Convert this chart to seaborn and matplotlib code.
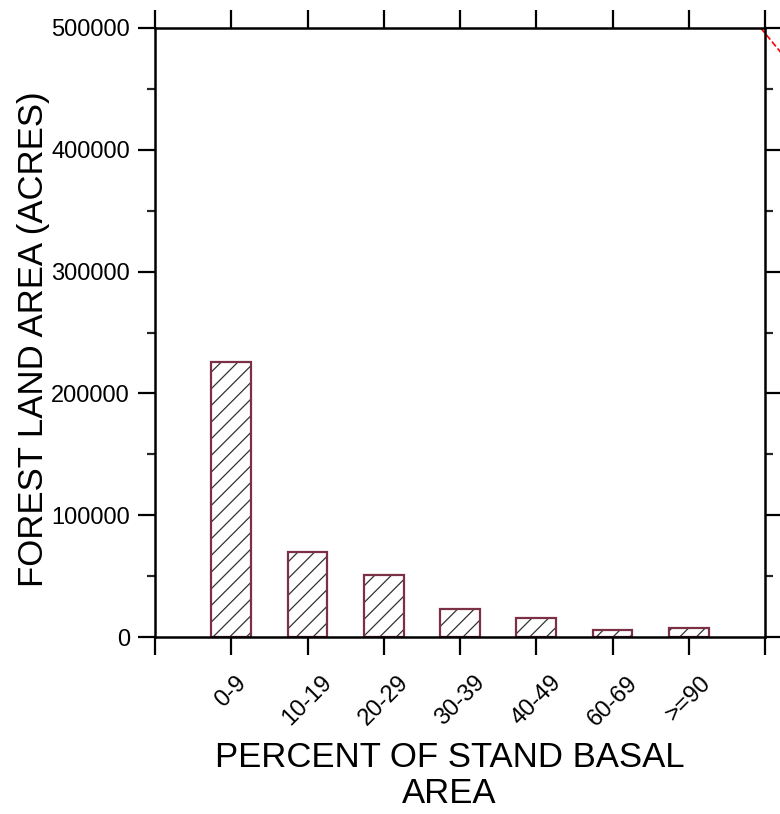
import matplotlib
matplotlib.use("Agg")
import matplotlib.pyplot as plt
import seaborn as sns
import pandas as pd
from matplotlib.ticker import MultipleLocator
from matplotlib.lines import Line2D

categories = ["0-9", "10-19", "20-29", "30-39", "40-49", "60-69", ">=90"]
acres = [226000, 70000, 51000, 23000, 15500, 5800, 7100]
y_major_ticks = [0, 100000, 200000, 300000, 400000, 500000]

sns.set_theme(style="white")
plt.rcParams["font.family"] = ["Liberation Sans", "DejaVu Sans"]
plt.rcParams["hatch.linewidth"] = 0.9

df = pd.DataFrame({"cat": categories, "acres": acres})

fig = plt.figure(figsize=(7.8, 8.14), dpi=100)
ax = fig.add_axes([155 / 780, 1 - 637 / 814, 610 / 780, 609 / 814])

edge = "#7b3045"
# hatched fill layer
sns.barplot(data=df, x="cat", y="acres", ax=ax, color="white", edgecolor="#333333",
            linewidth=0, width=0.52, saturation=1)
for p in ax.patches:
    p.set_hatch("//")
# outline layer
sns.barplot(data=df, x="cat", y="acres", ax=ax, color="white", width=0.52, saturation=1,
            facecolor="none", edgecolor=edge, linewidth=1.6)

ax.set_xlim(-1, len(categories))
ax.set_ylim(0, 500000)

ax.set_xticks(range(-1, len(categories) + 1))
ax.set_xticklabels([""] + categories + [""], rotation=45, ha="center",
                   va="top", fontsize=17)
ax.set_yticks(y_major_ticks)
ax.set_yticklabels([str(v) for v in y_major_ticks], fontsize=17)
ax.yaxis.set_minor_locator(MultipleLocator(50000))

for s in ax.spines.values():
    s.set_visible(True)
    s.set_linewidth(1.8)
    s.set_color("black")

ax.tick_params(axis="x", which="major", direction="out", length=13, width=1.6,
               top=True, bottom=True, pad=12, colors="black")
ax.tick_params(axis="y", which="major", direction="out", length=12, width=1.6,
               left=True, right=True, pad=6, colors="black")
ax.tick_params(axis="y", which="minor", direction="out", length=6, width=1.6,
               left=True, right=True)

ax.set_xlabel("PERCENT OF STAND BASAL\nAREA", fontsize=25, linespacing=1.12, color="black")
ax.set_ylabel("FOREST LAND AREA (ACRES)", fontsize=25, color="black")
ax.xaxis.set_label_coords((449.5 - 155) / 610, (637 - 741) / 609)
ax.yaxis.set_label_coords((50 - 155) / 610, (637 - 339) / 609)

ax.add_line(Line2D([0.993, 1.03], [1.0, 0.955], transform=ax.transAxes, color="red",
                   linestyle="--", linewidth=1.2, clip_on=False))

fig.savefig("out.png", dpi=100, facecolor="white")
